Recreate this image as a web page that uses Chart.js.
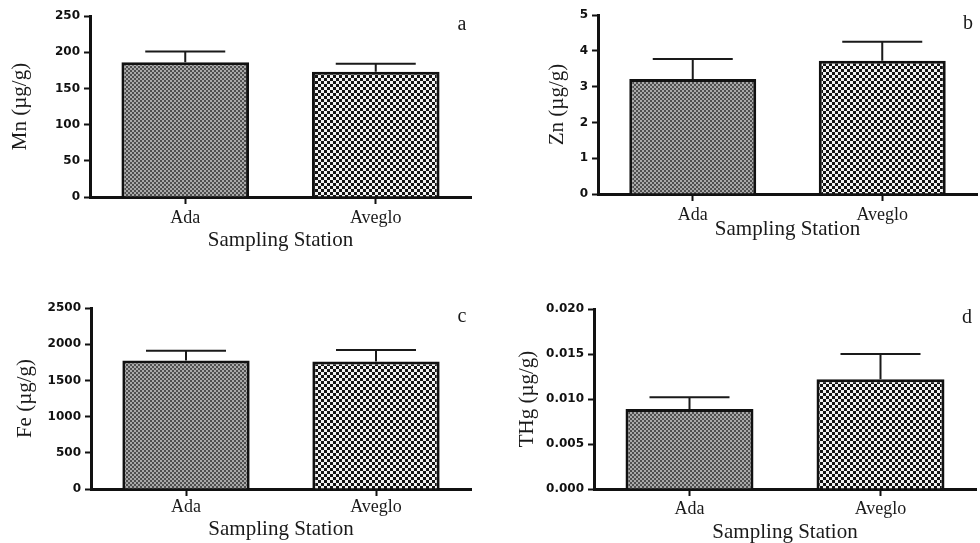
<!DOCTYPE html>
<html>
<head>
<meta charset="utf-8">
<script src="https://cdn.jsdelivr.net/npm/chart.js@4"></script>
<style>
  body { margin: 0; background: #fff; }
  #wrap { position: relative; width: 980px; height: 543px; overflow: hidden; }
  canvas { position: absolute; }
</style>
</head>
<body>
<div id="wrap">
  <canvas id="mn" width="490" height="265" style="left:0;top:0"></canvas>
  <canvas id="zn" width="490" height="265" style="left:490px;top:0"></canvas>
  <canvas id="fe" width="490" height="273" style="left:0;top:270px"></canvas>
  <canvas id="thg" width="490" height="273" style="left:490px;top:270px"></canvas>
</div>
<script>
// Mean concentrations (µg/g) and standard deviations per sampling station
const stations = ['Ada', 'Aveglo'];

const mnMean = [186, 173];
const mnSd = [15, 11];

const znMean = [3.21, 3.72];
const znSd = [0.56, 0.53];

const feMean = [1775, 1761];
const feSd = [134, 158];

const thgMean = [0.0089, 0.0122];
const thgSd = [0.0013, 0.0028];

// y axis tick values
const mnTicks = [0, 50, 100, 150, 200, 250];
const znTicks = [0, 1, 2, 3, 4, 5];
const feTicks = [0, 500, 1000, 1500, 2000, 2500];
const thgTicks = [0.000, 0.005, 0.010, 0.015, 0.020];

const serif = '"Liberation Serif", "Times New Roman", serif';

// ── Fill patterns ─────────────────────────────────────────────────────────────
function checker(cell, dark, light) {
    const c = document.createElement('canvas');
    c.width = c.height = cell * 2;
    const g = c.getContext('2d');
    g.fillStyle = light;
    g.fillRect(0, 0, cell * 2, cell * 2);
    g.fillStyle = dark;
    g.fillRect(0, 0, cell, cell);
    g.fillRect(cell, cell, cell, cell);
    return g.createPattern(c, 'repeat');
}

// error bars (upper whisker only) + panel letter
const decor = {
    id: 'decor',
    afterDatasetsDraw(chart, args, opts) {
        const { ctx, chartArea } = chart;
        const y = chart.scales.y;
        const meta = chart.getDatasetMeta(0);
        ctx.save();
        ctx.strokeStyle = '#1a1a1a';
        ctx.lineWidth = 2;
        meta.data.forEach((bar, i) => {
            const top = y.getPixelForValue(opts.mean[i] + opts.sd[i]);
            ctx.beginPath();
            ctx.moveTo(bar.x, bar.y);
            ctx.lineTo(bar.x, top);
            ctx.moveTo(bar.x - 40, top);
            ctx.lineTo(bar.x + 40, top);
            ctx.stroke();
        });
        ctx.fillStyle = '#1a1a1a';
        ctx.font = '20px ' + serif;
        ctx.textAlign = 'center';
        ctx.textBaseline = 'middle';
        ctx.fillText(opts.letter, chartArea.right - 9, chartArea.top + 9);
        ctx.restore();
    }
};

function drawPanel(p) {
    const canvas = document.getElementById(p.canvas);
    const fills = [checker(2, '#4f4f4f', '#a9a9a9'), checker(3, '#141414', '#f2f2f2')];

    new Chart(canvas, {
        type: 'bar',
        data: {
            labels: stations,
            datasets: [{
                data: p.mean,
                backgroundColor: fills,
                borderColor: '#111',
                borderWidth: 3,
                barPercentage: 0.67,
                categoryPercentage: 1
            }]
        },
        options: {
            responsive: false,
            devicePixelRatio: 1,
            animation: false,
            events: [],
            layout: { padding: p.pad },
            plugins: {
                legend: { display: false },
                tooltip: { enabled: false },
                decor: { mean: p.mean, sd: p.sd, letter: p.letter }
            },
            scales: {
                x: {
                    offset: true,
                    afterFit: s => { s.height = p.xHeight; },
                    grid: { offset: false, drawOnChartArea: false, tickLength: 7, tickWidth: 2, tickColor: '#111' },
                    border: { color: '#111', width: 3 },
                    ticks: { color: '#1a1a1a', padding: p.xPad, font: { family: serif, size: 18 } },
                    title: {
                        display: true,
                        text: 'Sampling Station',
                        color: '#1a1a1a',
                        padding: { top: 0, bottom: p.titlePad },
                        font: { family: serif, size: 21, lineHeight: 1 }
                    }
                },
                y: {
                    min: 0,
                    max: p.ticks[p.ticks.length - 1],
                    afterFit: s => { s.width = p.yWidth; },
                    afterBuildTicks: s => { s.ticks = p.ticks.map(v => ({ value: v })); },
                    grid: { drawOnChartArea: false, tickLength: 6, tickWidth: 2, tickColor: '#111' },
                    border: { color: '#111', width: 3 },
                    ticks: {
                        color: '#111',
                        padding: 4,
                        font: { family: '"DejaVu Sans", sans-serif', size: 12, weight: 'bold' },
                        callback: v => v.toFixed(p.digits)
                    },
                    title: {
                        display: true,
                        text: p.label,
                        color: '#1a1a1a',
                        padding: { top: 8, bottom: 0 },
                        font: { family: serif, size: 21 }
                    }
                }
            }
        },
        plugins: [decor]
    });
}

drawPanel({ canvas: 'mn', letter: 'a', label: 'Mn (µg/g)', mean: mnMean, sd: mnSd, ticks: mnTicks, digits: 0,
    pad: { left: 0, top: 16, right: 19, bottom: 0 }, yWidth: 90, xHeight: 68, xPad: 3, titlePad: 14 });
drawPanel({ canvas: 'zn', letter: 'b', label: 'Zn (µg/g)', mean: znMean, sd: znSd, ticks: znTicks, digits: 0,
    pad: { left: 47, top: 15, right: 3, bottom: 0 }, yWidth: 61, xHeight: 71, xPad: 3, titlePad: 25 });
drawPanel({ canvas: 'fe', letter: 'c', label: 'Fe (µg/g)', mean: feMean, sd: feSd, ticks: feTicks, digits: 0,
    pad: { left: 5, top: 38, right: 19, bottom: 0 }, yWidth: 86, xHeight: 54, xPad: 0, titlePad: 3 });
drawPanel({ canvas: 'thg', letter: 'd', label: 'THg (µg/g)', mean: thgMean, sd: thgSd, ticks: thgTicks, digits: 3,
    pad: { left: 17, top: 39, right: 4, bottom: 0 }, yWidth: 87, xHeight: 54, xPad: 2, titlePad: 0 });
</script>
</body>
</html>
